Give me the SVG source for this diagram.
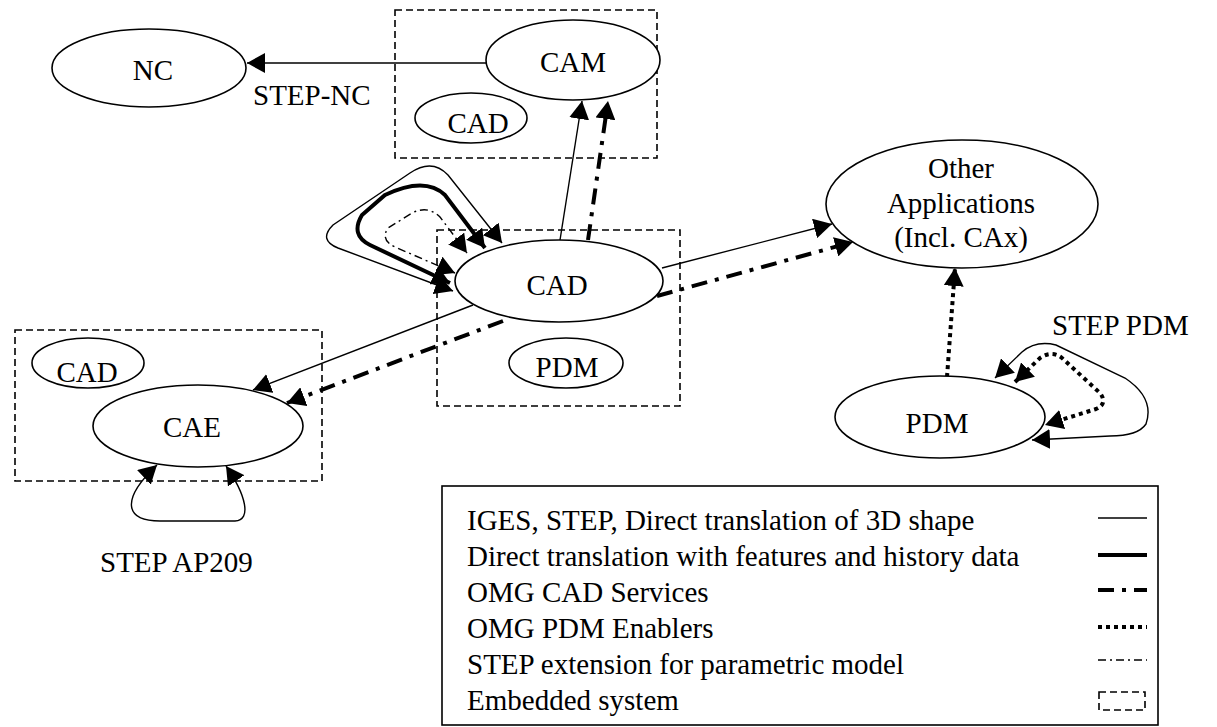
<svg xmlns="http://www.w3.org/2000/svg" width="1217" height="727" viewBox="0 0 1217 727">
<defs>
<style>
text{font-family:"Liberation Serif","Times New Roman",serif;font-size:29px;fill:#000}
.n{fill:#fff;stroke:#000;stroke-width:1.6}
.box{fill:none;stroke:#000;stroke-width:1.6;stroke-dasharray:7 4}
.thin{fill:none;stroke:#000;stroke-width:1.4}
.bold{fill:none;stroke:#000;stroke-width:4}
.dd{fill:none;stroke:#000;stroke-width:4;stroke-dasharray:16 8 4 8}
.dot{fill:none;stroke:#000;stroke-width:4;stroke-dasharray:4 4}
.tdd{fill:none;stroke:#000;stroke-width:1.4;stroke-dasharray:8 4 2 4}
</style>
<marker id="ah" markerUnits="userSpaceOnUse" markerWidth="20" markerHeight="20" refX="18" refY="10" orient="auto-start-reverse">
<path d="M0,0 L18,10 L0,20 z" fill="#000"/>
</marker>
</defs>
<rect width="1217" height="727" fill="#fff"/>

<g id="embedded">
<rect class="box" x="395" y="10" width="262" height="148"/>
<rect class="box" x="437" y="230" width="243" height="176"/>
<rect class="box" x="15" y="330" width="307" height="151"/>
</g>

<g id="connectors">
<path class="thin" d="M487,63 L247,63" marker-end="url(#ah)"/>
<path class="thin" d="M560,240 L582,101" marker-end="url(#ah)"/>
<path class="dd" d="M588,240 L608,101" marker-end="url(#ah)"/>
<path class="thin" d="M662,268 L832,224" marker-end="url(#ah)"/>
<path class="dd" d="M657,296 L853,242" marker-end="url(#ah)"/>
<path class="thin" d="M473,305 L253,390" marker-end="url(#ah)"/>
<path class="dd" d="M503,321 L287,403" marker-end="url(#ah)"/>
<path class="thin" d="M453,291 L338,248 Q318,240 333,225 L410,173 Q432,158 448,175 L502,243" marker-start="url(#ah)" marker-end="url(#ah)"/>
<path class="bold" d="M450,283 L370,245 Q350,235 362,215 L385,195 Q425,176 445,195 L485,248" marker-start="url(#ah)" marker-end="url(#ah)"/>
<path class="tdd" d="M455,273 L395,247 Q380,240 388,228 L412,213 Q428,205 440,217 L467,253" marker-start="url(#ah)" marker-end="url(#ah)"/>
<path class="thin" d="M157,465 C120,500 125,521 160,521 L235,521 C252,520 246,495 226,466" marker-start="url(#ah)" marker-end="url(#ah)"/>
<path class="dot" d="M947,377 L955,268" marker-end="url(#ah)"/>
<path class="thin" d="M995,378 L1022,352 Q1036,340 1056,345 L1125,378 Q1155,398 1146,424 Q1138,436 1110,436 L1032,440" marker-start="url(#ah)" marker-end="url(#ah)"/>
<path class="dot" d="M1015,382 L1040,358 Q1052,350 1062,358 L1100,393 Q1108,404 1096,409 L1045,425" marker-start="url(#ah)" marker-end="url(#ah)"/>
</g>

<g id="node-nc"><ellipse class="n" cx="149" cy="68" rx="97" ry="39"/><text x="153" y="80" text-anchor="middle">NC</text></g>
<g id="node-cam"><ellipse class="n" cx="573" cy="60" rx="87" ry="40"/><text x="573" y="72" text-anchor="middle">CAM</text></g>
<g id="node-cad-cam"><ellipse class="n" cx="471" cy="118" rx="56" ry="25"/><text x="478" y="133" text-anchor="middle">CAD</text></g>
<g id="node-cad"><ellipse class="n" cx="559" cy="281" rx="104" ry="41"/><text x="557" y="295" text-anchor="middle">CAD</text></g>
<g id="node-pdm-cad"><ellipse class="n" cx="566" cy="363" rx="57" ry="25"/><text x="567" y="377" text-anchor="middle">PDM</text></g>
<g id="node-cae"><ellipse class="n" cx="198" cy="426" rx="105" ry="41"/><text x="192" y="437" text-anchor="middle">CAE</text></g>
<g id="node-cad-cae"><ellipse class="n" cx="88" cy="363" rx="56" ry="25"/><text x="87" y="382" text-anchor="middle">CAD</text></g>
<g id="node-other"><ellipse class="n" cx="962" cy="204" rx="136" ry="64"/><text x="961" y="178" text-anchor="middle">Other</text><text x="961" y="213" text-anchor="middle">Applications</text><text x="961" y="247" text-anchor="middle">(Incl. CAx)</text></g>
<g id="node-pdm"><ellipse class="n" cx="940" cy="417" rx="105" ry="41"/><text x="937" y="433" text-anchor="middle">PDM</text></g>

<g id="labels">
<text x="253" y="105">STEP-NC</text>
<text x="100" y="572">STEP AP209</text>
<text x="1052" y="335">STEP PDM</text>
</g>

<g id="legend">
<rect x="442" y="486" width="716" height="239" fill="#fff" stroke="#000" stroke-width="1.6"/>
<text x="467" y="530">IGES, STEP, Direct translation of 3D shape</text>
<text x="467" y="566">Direct translation with features and history data</text>
<text x="467" y="602">OMG CAD Services</text>
<text x="467" y="638">OMG PDM Enablers</text>
<text x="467" y="674">STEP extension for parametric model</text>
<text x="467" y="710">Embedded system</text>
<line class="thin" x1="1098" y1="518" x2="1147" y2="518"/>
<line class="bold" x1="1098" y1="555" x2="1147" y2="555"/>
<line class="dd" x1="1098" y1="590" x2="1147" y2="590"/>
<line class="dot" x1="1098" y1="627" x2="1147" y2="627"/>
<line class="tdd" x1="1098" y1="660" x2="1147" y2="660"/>
<rect class="box" x="1099" y="692" width="46" height="18" stroke-dasharray="5 4"/>
</g>
</svg>
